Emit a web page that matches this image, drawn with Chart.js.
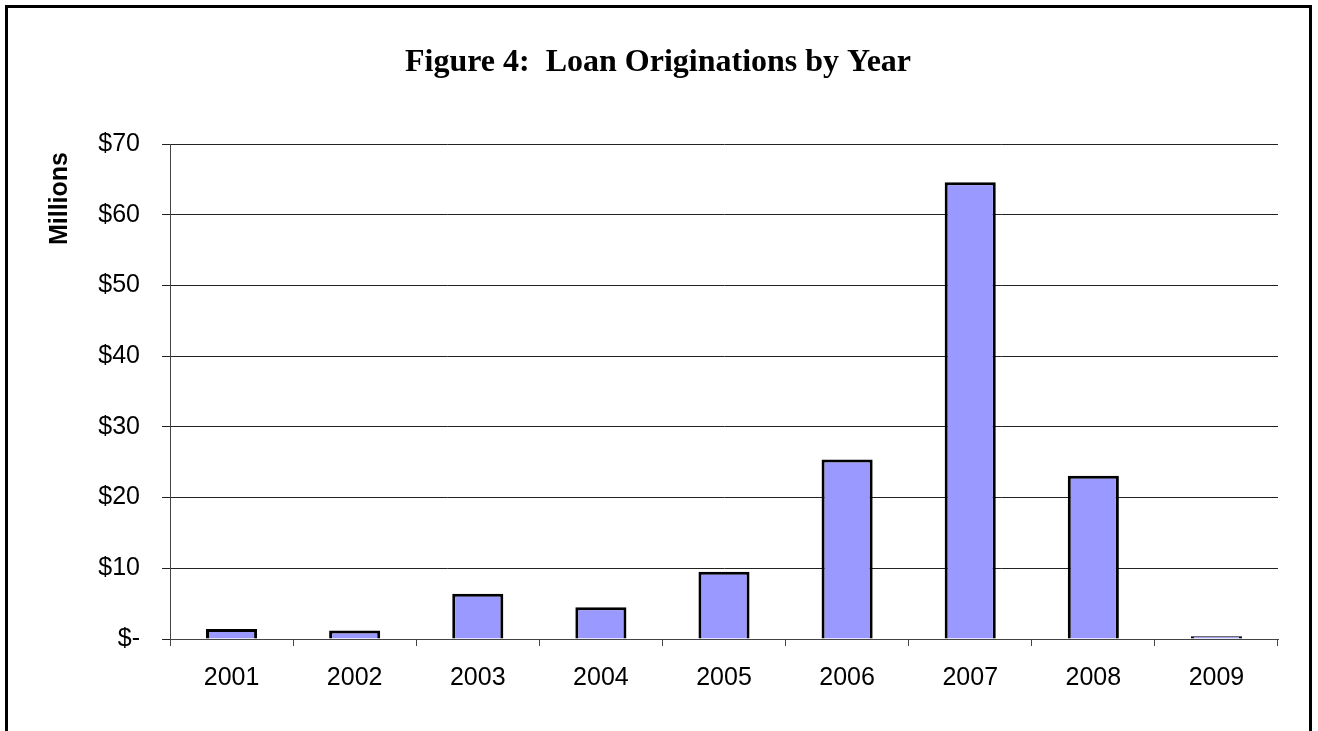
<!DOCTYPE html>
<html>
<head>
<meta charset="utf-8">
<script src="https://cdn.jsdelivr.net/npm/chart.js@4/dist/chart.umd.min.js"></script>
<style>
  html, body { margin: 0; padding: 0; background: #fff; overflow: hidden; }
  #wrap { position: relative; width: 1318px; height: 731px; }
  #frame { position: absolute; left: 5px; top: 5px; width: 1301px; height: 800px; border: 3px solid #000; pointer-events: none; }
</style>
</head>
<body>
<div id="wrap">
  <canvas id="chart" width="1318" height="731"></canvas>
  <div id="frame"></div>
</div>
<script>
// chart data
const years = ['2001', '2002', '2003', '2004', '2005', '2006', '2007', '2008', '2009'];
const originations = [1.4, 1.2, 6.4, 4.5, 9.5, 25.4, 64.6, 23.1, 0.4];
const yTicks = [0, 10, 20, 30, 40, 50, 60, 70];
const yTickLabels = ['$-', '$10', '$20', '$30', '$40', '$50', '$60', '$70'];
const titleText = 'Figure 4:  Loan Originations by Year';
const yTitle = 'Millions';

const sans = 'Liberation Sans, Arial, sans-serif';

// figure title and rotated y-axis title
const titlePlugin = {
  id: 'figTitle',
  afterDraw(chart) {
    const ctx = chart.ctx;
    ctx.save();
    ctx.font = 'bold 32px "Liberation Serif", "Times New Roman", serif';
    ctx.fillStyle = '#000';
    ctx.textAlign = 'center';
    ctx.textBaseline = 'alphabetic';
    ctx.fillText(titleText, 658, 71);

    ctx.translate(60, chart.chartArea.top + 8);
    ctx.rotate(-Math.PI / 2);
    ctx.font = 'bold 25px ' + sans;
    ctx.textAlign = 'right';
    ctx.textBaseline = 'middle';
    ctx.fillText(yTitle, 0, 0);
    ctx.restore();
  }
};

new Chart(document.getElementById('chart'), {
  type: 'bar',
  data: {
    labels: years,
    datasets: [{
      data: originations,
      backgroundColor: '#9999ff',
      borderColor: '#000',
      borderWidth: 3,
      barPercentage: 0.415,
      categoryPercentage: 1
    }]
  },
  options: {
    responsive: false,
    animation: false,
    layout: { padding: { top: 144, right: 40, left: 0, bottom: 0 } },
    plugins: { legend: { display: false }, tooltip: { enabled: false }, title: { display: false } },
    scales: {
      x: {
        afterFit(scale) { scale.height = 92; },
        grid: { drawOnChartArea: false, drawTicks: true, tickLength: 7, color: '#444', offset: true },
        border: { color: '#444', width: 1 },
        ticks: { color: '#000', font: { family: sans, size: 25 }, padding: 17, maxRotation: 0 }
      },
      y: {
        min: 0,
        max: 70,
        afterFit(scale) { scale.width = 170; },
        afterBuildTicks(scale) { scale.ticks = yTicks.map(v => ({ value: v })); },
        grid: { color: '#222', lineWidth: 1, tickLength: 8, drawTicks: true },
        border: { color: '#444', width: 1 },
        ticks: {
          color: '#000',
          font: { family: sans, size: 25 },
          padding: 22,
          callback: (v) => yTickLabels[yTicks.indexOf(v)]
        }
      }
    }
  },
  plugins: [titlePlugin]
});
</script>
</body>
</html>
